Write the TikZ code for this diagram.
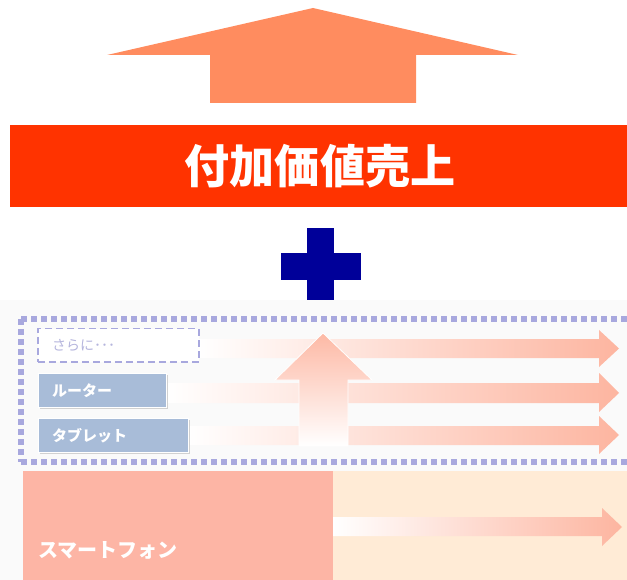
\documentclass[tikz,border=0pt]{standalone}
\usepackage{fontspec}
\newfontfamily\cjk{Noto Sans CJK JP}
\definecolor{toparrow}{HTML}{FF8C5F}
\definecolor{banner}{HTML}{FF3300}
\definecolor{plusblue}{HTML}{000099}
\definecolor{panelbg}{HTML}{FAFAFA}
\definecolor{lav}{HTML}{A8A8DE}
\definecolor{boxblue}{HTML}{A8BCD8}
\definecolor{salmon}{HTML}{FDB5A0}
\definecolor{smartfill}{HTML}{FDB5A5}
\definecolor{peach}{HTML}{FFEBD6}
\definecolor{lavtext}{HTML}{B5B5DD}
\tikzset{
  catbox/.style={fill=boxblue, draw=white, line width=1pt},
  boxshadow/.style={fill=black!18},
  cattext/.style={anchor=west, text=white, font=\cjk\bfseries\fontsize{15}{15}\selectfont, inner sep=0pt},
  harrow/.style={left color=white, right color=salmon, draw=none},
  dotline/.style={lav, line width=5.5pt, dash pattern=on 6pt off 4pt},
}
\begin{document}
\begin{tikzpicture}[x=1pt,y=-1pt]
\useasboundingbox (0,0) rectangle (627,580);
% top arrow
\fill[toparrow] (313,8) -- (518,55) -- (416,55) -- (416,103) -- (210,103) -- (210,55) -- (107,55) -- cycle;
% banner
\fill[banner] (10,125) rectangle (627,207);
\node[text=white, font=\cjk\bfseries\fontsize{46}{46}\selectfont, inner sep=0pt, xscale=0.98] (title) at (320,166) {付加価値売上};
% plus
\fill[plusblue] (307,228) rectangle (334,301);
\fill[plusblue] (281,253) rectangle (361,280);
% lower panel
\fill[panelbg] (0,300) rectangle (627,580);
% dotted frame
\draw[dotline] (21,319) -- (627,319);
\draw[dotline] (21,462) -- (627,462);
\draw[dotline] (21,319) -- (21,462);
% horizontal arrows
\shade[harrow] (198,339) -- (599,339) -- (599,330) -- (619,348.5) -- (599,367) -- (599,358) -- (198,358) -- cycle;
\shade[harrow] (166,383) -- (599,383) -- (599,373) -- (619,393) -- (599,412) -- (599,403) -- (166,403) -- cycle;
\shade[harrow] (188,426) -- (599,426) -- (599,416) -- (619,435) -- (599,454) -- (599,445) -- (188,445) -- cycle;
% vertical arrow
\shade[top color=salmon!95, bottom color=white, draw=white, line width=0.8pt] (323,333) -- (372,380) -- (348,380) -- (348,446) -- (299,446) -- (299,380) -- (275,380) -- cycle;
% boxes
\node[draw=lav, fill=white, line width=1.5pt, dash pattern=on 7pt off 4pt, minimum width=161pt, minimum height=33pt, anchor=north west, inner sep=0pt] (more) at (37,328) {};
\node[anchor=west, text=lavtext, font=\cjk\fontsize{14}{14}\selectfont, inner sep=0pt] (moretext) at (52,345) {さらに･･･};
\fill[boxshadow] (40,375) rectangle (168,409);
\node[catbox, minimum width=128pt, minimum height=34pt, anchor=north west, inner sep=0pt] (router) at (38,373) {};
\node[cattext] (routertext) at (52,391) {ルーター};
\fill[boxshadow] (40,420) rectangle (190,454);
\node[catbox, minimum width=150pt, minimum height=34pt, anchor=north west, inner sep=0pt] (tablet) at (38,418) {};
\node[cattext] (tablettext) at (52,436) {タブレット};
% smartphone section
\fill[peach] (333,471) rectangle (627,580);
\node[fill=smartfill, minimum width=310pt, minimum height=109pt, anchor=north west, inner sep=0pt] (smart) at (23,471) {};
\node[anchor=west, text=white, font=\cjk\bfseries\fontsize{20}{20}\selectfont, inner sep=0pt] (smarttext) at (38,550) {スマートフォン};
\shade[harrow] (333,517) -- (602,517) -- (602,508) -- (622,527) -- (602,546) -- (602,536) -- (333,536) -- cycle;
\end{tikzpicture}
\end{document}
